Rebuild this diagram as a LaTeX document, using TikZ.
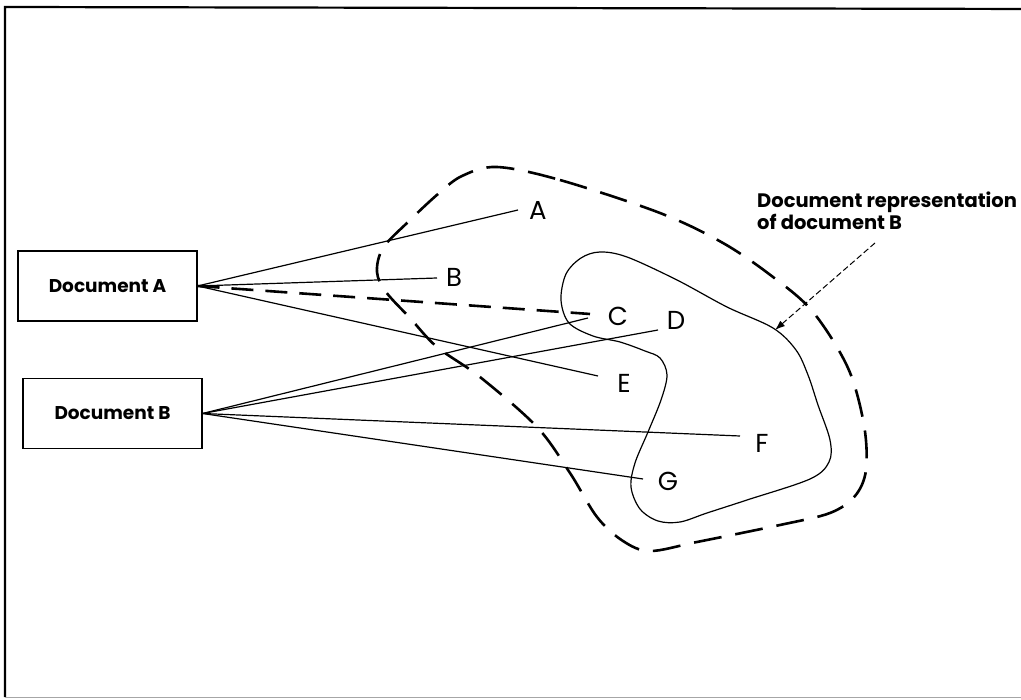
\documentclass[tikz,border=0pt]{standalone}
\usepackage{fontspec}
\setmainfont{Poppins}
\usetikzlibrary{arrows.meta}
\begin{document}
\begin{tikzpicture}[x=1pt,y=-1pt,
  doc/.style={draw, line width=1.1pt, minimum width=179pt, minimum height=70pt,
    inner sep=0pt, font=\fontsize{18.5}{20}\selectfont\bfseries},
  lbl/.style={inner sep=0pt, font=\fontsize{26}{28}\selectfont},
  link/.style={line width=1.2pt},
  thickdash/.style={line width=2.6pt, dash pattern=on 28pt off 14pt},
  outline/.style={line width=1.2pt},
  note/.style={inner sep=0pt, align=left, font=\fontsize{19.5}{18}\selectfont\bfseries},
  pointer/.style={line width=1pt, dash pattern=on 6pt off 3pt, -{Latex[length=10pt,width=7pt]}}
]
\useasboundingbox (0,0) rectangle (1021,700);

% frame
\draw[line width=2.2pt] (1040,9) -- (5,7) -- (5,697);
\draw[line width=1pt, black!35] (5,697) -- (1040,697);

% documents
\node[doc] (docA) at (107.5,286) {Document A};
\node[doc] (docB) at (112.5,413.5) {Document B};

% index terms
\node[lbl] (lA) at (538,210) {A};
\node[lbl] (lB) at (454,277) {B};
\node[lbl] (lC) at (618,316) {C};
\node[lbl] (lD) at (676,320) {D};
\node[lbl] (lE) at (624,383) {E};
\node[lbl] (lF) at (762,443) {F};
\node[lbl] (lG) at (668,481) {G};

% line ends next to the terms
\coordinate (eA) at (518,210);
\coordinate (eB) at (437,278);
\coordinate (eCa) at (590,314);
\coordinate (eCb) at (588,318);
\coordinate (eD) at (658,330);
\coordinate (eE) at (598,376);
\coordinate (eF) at (740,436);
\coordinate (eG) at (643,479);

% document representation of document B (inner outline)
\draw[outline] plot[smooth cycle, tension=0.55] coordinates {
  (600,252) (627,257) (677,280) (727,307) (773,328) (796,350) (808,375)
  (818,405) (830,440) (829,462) (810,479) (747,500) (707,513) (680,522)
  (658,521) (640,509) (631,487) (635,463) (648,432) (661,400) (667,375)
  (660,358) (645,351) (620,342) (593,336) (569,323) (561,300) (566,274) (581,258)};

% outer dashed region
\draw[thickdash] plot[smooth cycle, tension=0.55] coordinates {
  (497,167) (560,180) (660,213) (723,243) (773,277) (813,312) (848,368)
  (864,425) (866,470) (855,496) (830,513) (780,525) (697,542) (650,551)
  (623,541) (597,517) (570,473) (537,427) (480,377) (437,347) (410,318)
  (386,292) (377,272) (383,248) (408,222) (438,194) (462,176)};

% links of document A
\draw[link] (docA.east) -- (eA);
\draw[link] (docA.east) -- (eB);
\draw[link] (docA.east) -- (eE);
\draw[thickdash, dash pattern=on 22pt off 12pt] (docA.east) -- (eCa);

% links of document B
\draw[link] (docB.east) -- (eCb);
\draw[link] (docB.east) -- (eD);
\draw[link] (docB.east) -- (eF);
\draw[link] (docB.east) -- (eG);

% annotation
\node[note, anchor=north west] (note) at (757,192) {Document representation\\of document B};
\coordinate (tip) at (775,330);
\draw[pointer] (875,243) coordinate (ptr) -- (tip);
\end{tikzpicture}
\end{document}
